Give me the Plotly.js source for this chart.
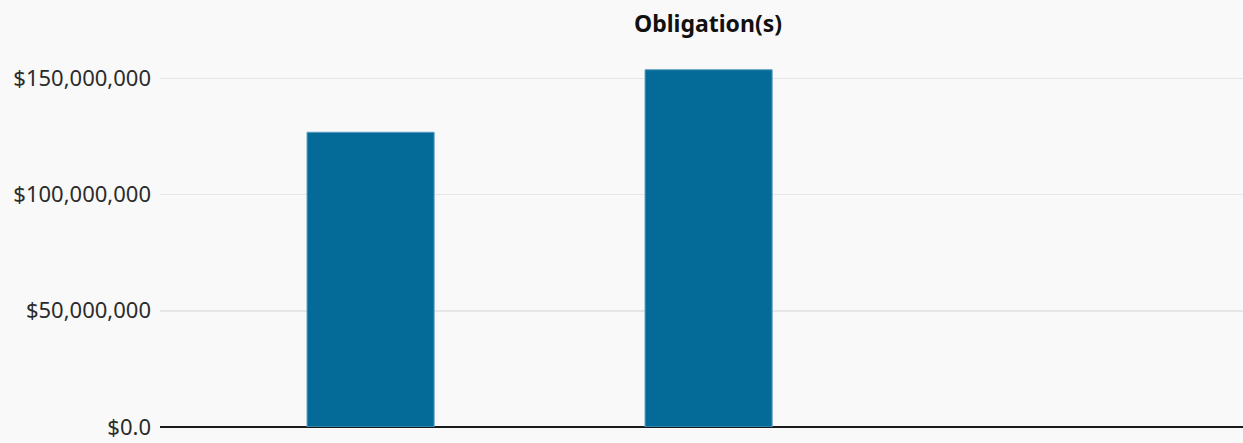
<!DOCTYPE html>
<html>
<head>
<meta charset="utf-8">
<script src="https://cdn.plot.ly/plotly-3.0.1.min.js"></script>
<style>html,body{margin:0;padding:0;background:#f9f9f9;}#chart{width:1243px;height:443px;}</style>
</head>
<body>
<div id="chart"></div>
<script>
const categories = ["Period 1", "Period 2"];
const obligations = [126800000, 153700000];
const yTicks = [0, 50000000, 100000000, 150000000];
const yTickLabels = ["$0.0", "$50,000,000", "$100,000,000", "$150,000,000"];
const titleText = "<b>Obligation(s)</b>";

const trace = {
  type: "bar",
  x: categories,
  y: obligations,
  width: 0.376,
  marker: { color: "#046b99", line: { color: "#5a9cc0", width: 1 } },
  hoverinfo: "y"
};

const layout = {
  width: 1243,
  height: 443,
  paper_bgcolor: "#f9f9f9",
  plot_bgcolor: "#f9f9f9",
  margin: { l: 160, r: 0, t: 60, b: 16 },
  showlegend: false,
  title: {
    text: titleText,
    x: 708 / 1243,
    xanchor: "center",
    xref: "container",
    yref: "container",
    y: 1 - 24 / 443,
    yanchor: "middle",
    font: { family: "Noto Sans, sans-serif", size: 23, color: "#111111" }
  },
  xaxis: {
    type: "category",
    range: [-0.623, 2.581],
    showticklabels: false,
    ticks: "",
    showgrid: false,
    zeroline: false,
    showline: false,
    fixedrange: true
  },
  yaxis: {
    range: [0, 157900000],
    tickvals: yTicks,
    ticktext: yTickLabels,
    tickfont: { family: "Noto Sans, sans-serif", size: 22, color: "#2b2b2b" },
    ticks: "",
    ticklen: 0,
    ticklabelstandoff: 8,
    showgrid: true,
    gridcolor: "#e6e6e6",
    gridwidth: 1.5,
    zeroline: true,
    zerolinecolor: "#1a1a1a",
    zerolinewidth: 2,
    showline: false,
    automargin: false,
    fixedrange: true
  },
  bargap: 0.62
};

Plotly.newPlot("chart", [trace], layout, { displayModeBar: false, staticPlot: true });
</script>
</body>
</html>
